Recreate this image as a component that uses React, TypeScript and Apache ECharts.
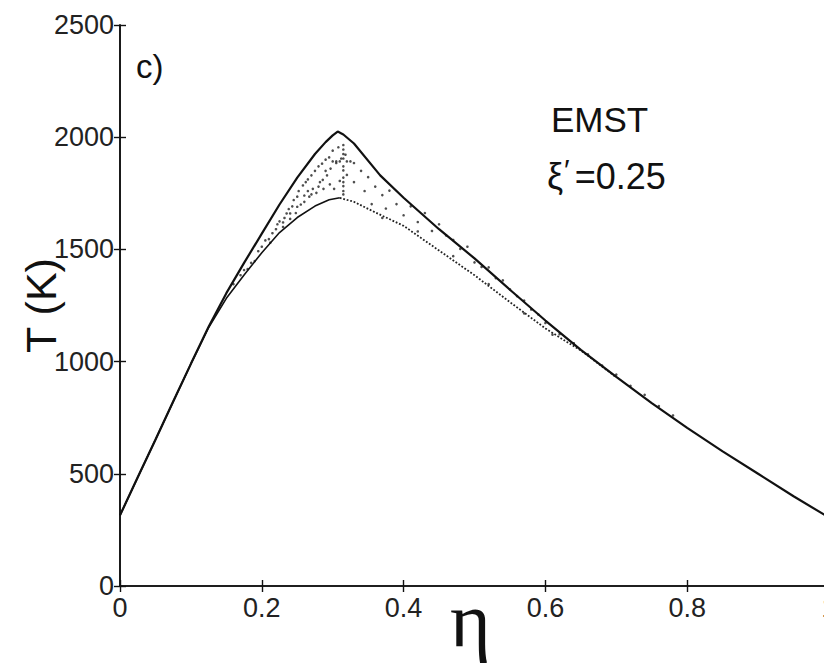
import React, { useEffect, useRef } from "react";
import * as echarts from "echarts";

// Upper bound (equilibrium-like) curve: [eta, T]
const upperCurve: [number, number][] = [
  [0, 315], [0.025, 485], [0.05, 652], [0.075, 822], [0.1, 990], [0.125, 1155],
  [0.15, 1305], [0.175, 1440], [0.2, 1570], [0.225, 1700], [0.25, 1820],
  [0.275, 1925], [0.29, 1978], [0.3, 2008], [0.307, 2025], [0.315, 2012], [0.33, 1972],
  [0.367, 1830], [0.4, 1730], [0.45, 1590], [0.5, 1460], [0.55, 1320],
  [0.6, 1183], [0.65, 1052], [0.7, 932], [0.75, 815], [0.8, 705],
  [0.85, 600], [0.9, 500], [0.95, 400], [1.0, 305],
];

// Lower bound, left of peak (solid)
const lowerLeft: [number, number][] = [
  [0, 315], [0.05, 652], [0.1, 990], [0.125, 1152], [0.15, 1282], [0.175, 1386],
  [0.2, 1485], [0.225, 1575], [0.25, 1642], [0.275, 1693], [0.295, 1721], [0.31, 1730],
];

// Lower bound, right of peak (dotted)
const lowerRight: [number, number][] = [
  [0.31, 1730], [0.33, 1712], [0.36, 1665], [0.4, 1605], [0.45, 1495],
  [0.5, 1385], [0.55, 1265], [0.6, 1148], [0.63, 1088], [0.65, 1050],
  [0.7, 930],
];

// Particle scatter: [eta, T]
const particles: [number, number][] = [
  [0.16, 1345], [0.17, 1385], [0.175, 1408], [0.18, 1412], [0.185, 1440], [0.19, 1448],
  [0.195, 1492], [0.2, 1512], [0.205, 1540], [0.21, 1546], [0.212, 1530], [0.215, 1572],
  [0.22, 1590], [0.222, 1612], [0.225, 1625], [0.23, 1600], [0.232, 1640], [0.235, 1660],
  [0.238, 1680], [0.24, 1636], [0.243, 1692], [0.245, 1720], [0.248, 1662], [0.25, 1735],
  [0.252, 1760], [0.255, 1700], [0.258, 1785], [0.26, 1712], [0.262, 1800], [0.265, 1812],
  [0.267, 1735], [0.27, 1830], [0.272, 1770], [0.275, 1850], [0.277, 1752], [0.28, 1870],
  [0.282, 1800], [0.285, 1882], [0.287, 1770], [0.29, 1900], [0.292, 1830], [0.295, 1910],
  [0.297, 1860], [0.3, 1940], [0.302, 1770], [0.305, 1885], [0.308, 1955], [0.31, 1805],
  [0.312, 1905], [0.315, 1965], [0.315, 1852], [0.315, 1782], [0.318, 1922], [0.32, 1892],
  [0.325, 1892], [0.33, 1885], [0.32, 1832], [0.3, 1892], [0.305, 1892], [0.31, 1892],
  [0.315, 1745], [0.315, 1760], [0.315, 1800], [0.315, 1820], [0.315, 1870], [0.315, 1905],
  [0.315, 1925], [0.315, 1945], [0.286, 1810], [0.296, 1790], [0.27, 1745], [0.26, 1740],
  [0.23, 1620], [0.24, 1660], [0.25, 1690], [0.265, 1760], [0.28, 1780], [0.29, 1850],
  [0.33, 1800], [0.34, 1850], [0.345, 1760], [0.35, 1822], [0.355, 1702], [0.36, 1780],
  [0.37, 1742], [0.375, 1682], [0.38, 1762], [0.39, 1702], [0.4, 1652], [0.41, 1692],
  [0.42, 1622], [0.43, 1662], [0.44, 1582], [0.45, 1612], [0.46, 1562], [0.47, 1542],
  [0.48, 1502], [0.49, 1512], [0.5, 1442], [0.51, 1422], [0.52, 1420], [0.53, 1372],
  [0.54, 1362], [0.55, 1322], [0.56, 1292], [0.57, 1272], [0.58, 1232], [0.59, 1210],
  [0.6, 1172], [0.62, 1122], [0.64, 1082], [0.66, 1032], [0.68, 982], [0.7, 942],
  [0.72, 892], [0.74, 852], [0.76, 802], [0.78, 760],
  [0.37, 1640], [0.42, 1580], [0.47, 1470], [0.52, 1345], [0.57, 1215], [0.61, 1120],
];

const xTicks = [0, 0.2, 0.4, 0.6, 0.8, 1];
const yTicks = [0, 500, 1000, 1500, 2000, 2500];

export default function App() {
  const ref = useRef<HTMLDivElement>(null);
  useEffect(() => {
    if (!ref.current) return;
    const chart = echarts.init(ref.current, null, { renderer: "svg" });
    const font = "Liberation Sans";
    const axisLine = { show: true, lineStyle: { color: "#111", width: 1.6 } };
    const tickIn = { show: true, inside: true, length: 6, lineStyle: { color: "#111", width: 1.4 } };
    const labelStyle = { fontSize: 27, color: "#222", fontFamily: font };
    chart.setOption({
      animation: false,
      backgroundColor: "#fff",
      grid: { left: 120, right: 3, top: 25, bottom: 78, containLabel: false, outerBoundsMode: "none" },
      xAxis: [
        {
          type: "value", min: xTicks[0], max: xTicks[xTicks.length - 1], interval: 0.2,
          position: "bottom",
          name: "η", nameLocation: "middle", nameGap: 5, nameMoveOverlap: false,
          nameTextStyle: {
            fontSize: 78, lineHeight: 56, fontFamily: "Liberation Serif", color: "#111",
            padding: [0, 8, 0, 0],
          },
          axisLine, axisTick: tickIn, splitLine: { show: false },
          axisLabel: { ...labelStyle, margin: 8, showMaxLabel: true, formatter: (v: number) => String(v) },
        },
        {
          type: "value", min: 0, max: 1, interval: 0.2, position: "top",
          axisLine, axisTick: tickIn, splitLine: { show: false }, axisLabel: { show: false },
        },
      ],
      yAxis: [
        {
          type: "value", min: yTicks[0], max: yTicks[yTicks.length - 1], interval: 500,
          position: "left",
          name: "T (K)", nameLocation: "middle", nameGap: 58, nameMoveOverlap: false,
          nameTextStyle: { fontSize: 43, fontFamily: font, color: "#111" },
          axisLine, axisTick: tickIn, splitLine: { show: false },
          axisLabel: { ...labelStyle, margin: 6, formatter: (v: number) => String(v) },
        },
        {
          type: "value", min: 0, max: 2500, interval: 500, position: "right",
          axisLine, axisTick: tickIn, splitLine: { show: false }, axisLabel: { show: false },
        },
      ],
      series: [
        {
          type: "scatter", data: particles, symbol: "circle", symbolSize: 2.6,
          itemStyle: { color: "#222" }, silent: true,
        },
        {
          type: "line", data: lowerRight, showSymbol: false, smooth: false,
          lineStyle: { color: "#222", width: 1.8, type: "dotted" },
        },
        {
          type: "line", data: lowerLeft, showSymbol: false, smooth: false,
          lineStyle: { color: "#111", width: 1.6 },
        },
        {
          type: "line", data: upperCurve, showSymbol: false, smooth: false,
          lineStyle: { color: "#111", width: 2.2 },
        },
      ],
      graphic: [
        { type: "text", left: 136, top: 50, style: { text: "c)", fontSize: 33, fontFamily: font, fill: "#111" } },
        { type: "text", left: 551, top: 102, style: { text: "EMST", fontSize: 35, fontFamily: font, fill: "#111" } },
        {
          type: "text", left: 547, top: 154,
          style: {
            text: "{a|ξ}{p|′}{b|=0.25}",
            fontFamily: font, fill: "#111",
            rich: {
              a: { fontSize: 36, fontFamily: font },
              p: { fontSize: 30, fontFamily: font, padding: [0, 5, 14, 1], verticalAlign: "top" },
              b: { fontSize: 36, fontFamily: font },
            },
          },
        },
      ],
    });
    return () => chart.dispose();
  }, []);
  return <div ref={ref} style={{ width: 832, height: 664, marginLeft: -8, marginTop: -8 }} />;
}
